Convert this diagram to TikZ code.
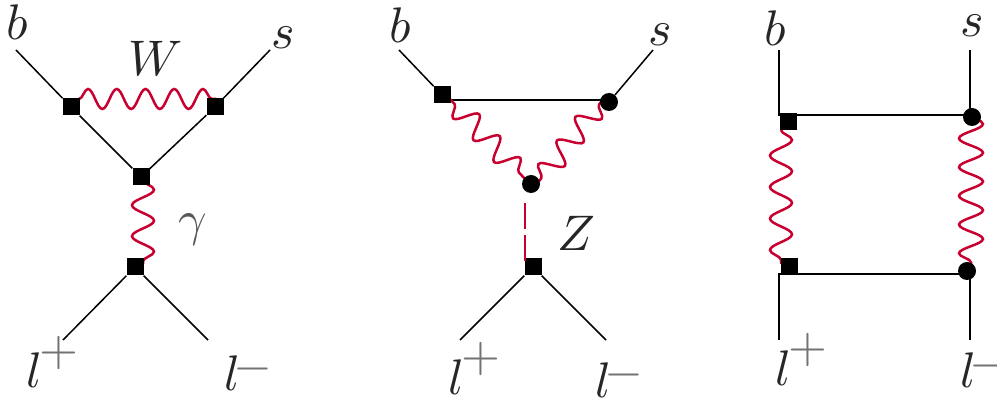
\documentclass[tikz,border=0pt]{standalone}
\usetikzlibrary{decorations.pathmorphing}
\definecolor{bosonred}{HTML}{C8002F}
\newcommand{\lplus}{$l$\kern-0.4pt\raisebox{4.5pt}{\color{black!55}$+$}}
\newcommand{\lminus}{$l$\kern-1.2pt\raisebox{1.9pt}{\color{black!55}$-$}}
\tikzset{
  x=1pt,y=-1pt,
  fermion/.style={draw=black,line width=1.5pt},
  heavy/.style={draw=black,line width=2.6pt},
  boson/.style={draw=bosonred,line width=2.5pt,decorate,decoration={snake,segment length=28.75pt,amplitude=10pt}},
  zline/.style={draw=bosonred,line width=2.4pt,dash pattern=on 26pt off 6pt},
  sq/.style={fill=black,inner sep=0pt,minimum size=17pt,rectangle},
  rd/.style={fill=black,inner sep=0pt,minimum size=18pt,circle},
  lab/.style={scale=5,inner sep=0pt,text=black!85},
  lepton/.style={scale=5,inner sep=0pt,text=black!85,anchor=base west}
}
\begin{document}
\begin{tikzpicture}
\useasboundingbox (0,0) rectangle (997,398);
% diagram 1
\coordinate (a1b) at (16,50);
\coordinate (a1s) at (270,50);
\coordinate (a1p) at (63,340);
\coordinate (a1m) at (208,340);
\coordinate (w1) at (79,99);
\coordinate (w2) at (216,99);
\coordinate (g1) at (143,180);
\coordinate (g2) at (143,264);
\draw[boson] (w1) -- (w2);
\draw[boson,decoration={segment length=31pt,amplitude=11pt}] (g1) -- (g2);
\node[sq] (a1) at (71,107) {};
\node[sq] (a2) at (215,107) {};
\node[sq] (a3) at (141,177) {};
\node[sq] (a4) at (135,267) {};
\draw[fermion] (a1b) -- (a1);
\draw[fermion] (a2) -- (a1s);
\draw[fermion] (a1) -- (a3);
\draw[fermion] (a2) -- (a3);
\draw[fermion] (a4) -- (a1p);
\draw[fermion] (a4) -- (a1m);
\node[lab] (lb1) at (17.5,22.5) {$b$};
\node[lab] (ls1) at (283.5,37.5) {$s$};
\node[lab] (lw) at (156,58) {$W$};
\node[lab,text=black!65] (lg) at (193,230) {$\gamma$};
\node[lepton] (lp1) at (25,388) {\lplus};
\node[lepton] (lm1) at (223,391) {\lminus};
% diagram 2
\coordinate (b1b) at (399,50);
\coordinate (b1s) at (653,50);
\coordinate (b1p) at (460,340);
\coordinate (b1m) at (606,340);
\coordinate (bz1) at (525,203);
\coordinate (bz2) at (525,261);
\coordinate (bh1) at (450,100);
\coordinate (bh2) at (601,100);
\coordinate (bl1) at (447,96);
\coordinate (bl2) at (526,180);
\coordinate (br1) at (536,185);
\coordinate (br2) at (601,102);
\draw[heavy] (bh1) -- (bh2);
\draw[boson,decoration={mirror,segment length=30pt,amplitude=11pt,pre=lineto,pre length=11pt}] (bl1) -- (bl2);
\draw[boson,decoration={segment length=30pt,amplitude=11pt,pre=lineto,pre length=8.5pt}] (br1) -- (br2);
\node[sq] (b1) at (442,95) {};
\node[rd] (b2) at (609,102) {};
\node[rd] (b3) at (531,184) {};
\node[sq] (b4) at (533,267) {};
\draw[fermion] (b1b) -- (b1);
\draw[fermion] (b2) -- (b1s);
\draw[fermion] (b4) -- (b1p);
\draw[fermion] (b4) -- (b1m);
\draw[zline] (bz1) -- (bz2);
\node[lab] (lb2) at (400.5,25.5) {$b$};
\node[lab] (ls2) at (660,34.5) {$s$};
\node[lab] (lz) at (576,233.5) {$Z$};
\node[lepton] (lp2) at (447,394) {\lplus};
\node[lepton] (lm2) at (594,397) {\lminus};
% diagram 3
\coordinate (c1b) at (779,50);
\coordinate (c1s) at (970,50);
\coordinate (c1p) at (779,340);
\coordinate (c1m) at (970,340);
\coordinate (c1t) at (779,115);
\coordinate (c2t) at (970,115);
\coordinate (c1u) at (779,274);
\coordinate (c2u) at (970,274);
\coordinate (l1) at (781,130);
\coordinate (l2) at (781,264);
\coordinate (r1) at (971,115);
\coordinate (r2) at (971,265);
\draw[heavy] (c1b) -- (c1t) -- (c2t) -- (c1s);
\draw[heavy] (c1p) -- (c1u) -- (c2u) -- (c1m);
\draw[boson,decoration={segment length=31.5pt,amplitude=11pt}] (l1) -- (l2);
\draw[boson,decoration={amplitude=12pt}] (r1) -- (r2);
\node[sq] (c1) at (788,122) {};
\node[rd] (c2) at (972,117) {};
\node[sq] (c3) at (789,267) {};
\node[rd] (c4) at (967,271) {};
\node[lab] (lb3) at (775,28.5) {$b$};
\node[lab] (ls3) at (972,25.5) {$s$};
\node[lepton] (lp3) at (774,385) {\lplus};
\node[lepton] (lm3) at (959,388) {\lminus};
\end{tikzpicture}
\end{document}
